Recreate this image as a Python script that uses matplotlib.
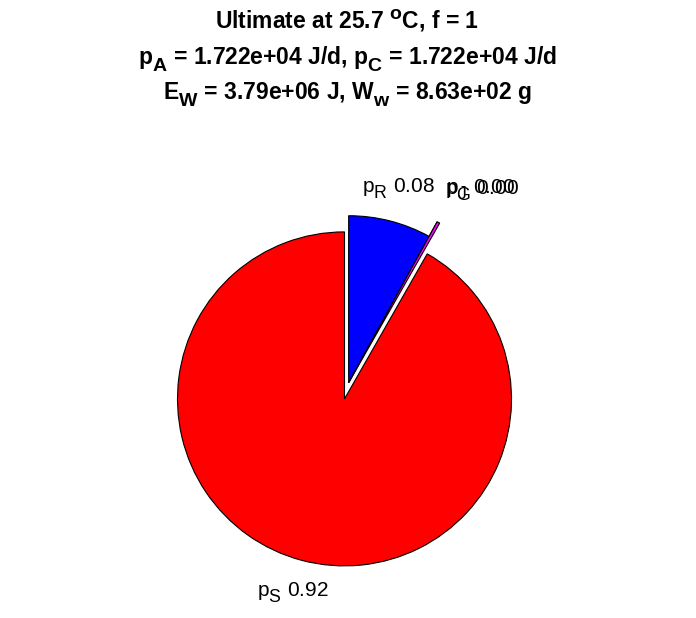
import numpy as np
import matplotlib
matplotlib.use('Agg')
import matplotlib.pyplot as plt
import matplotlib._mathtext as mathtext_internals

plt.rcParams['font.family'] = ['Liberation Sans', 'DejaVu Sans']
plt.rcParams['mathtext.fontset'] = 'custom'
plt.rcParams['mathtext.rm'] = 'Liberation Sans'
plt.rcParams['mathtext.it'] = 'Liberation Sans'
plt.rcParams['mathtext.bf'] = 'Liberation Sans:bold'

# MATLAB-style tex: bigger, lower sub/superscripts
mathtext_internals.SHRINK_FACTOR = 0.85
mathtext_internals.FontConstantsBase.sub1 = 0.6
mathtext_internals.FontConstantsBase.sup1 = 0.75

# Data (fractions of assimilation power)
names = ['R', 'J', 'G', 'S']
fractions = [0.080, 0.0, 0.0025, 0.9175]
explode = [0.1, 0.1, 0.1, 0.0]
colors = ['#0000ff', '#00ff00', '#ff00ff', '#ff0000']

title_lines = [
    r'Ultimate at 25.7 $^{\mathbf{o}}$C, f = 1',
    r'p$_{\mathbf{A}}$ = 1.722e+04 J/d, p$_{\mathbf{C}}$ = 1.722e+04 J/d',
    r'E$_{\mathbf{W}}$ = 3.79e+06 J, W$_{\mathbf{w}}$ = 8.63e+02 g',
]

fig = plt.figure(figsize=(6.96, 6.18), dpi=100)
ax = fig.add_axes([10.5 / 696, 2 / 618, 668 / 696, 601.2 / 618])

wedges, _ = ax.pie(fractions, explode=explode, colors=colors, startangle=90,
                   counterclock=False, radius=1.0,
                   wedgeprops=dict(edgecolor='k', linewidth=0.8))
ax.set_xlim(-2, 2)
ax.set_ylim(-1.3, 2.3)
ax.set_aspect('equal', adjustable='box')
ax.axis('off')

# tiny slices share the offset of the R slice and stick out a bit
for i, f in enumerate(fractions):
    if f < 0.005:
        wedges[i].set_center(wedges[0].center)
        wedges[i].set_radius(1.1)

# labels
order = [0, 3, 1, 2]
for i in order:
    w = wedges[i]
    th = np.deg2rad((w.theta1 + w.theta2) / 2)
    cx, cy = w.center
    if fractions[i] < 0.005:
        th2 = th - np.deg2rad(5.5)
        x, y = cx + 1.4 * np.cos(th2), cy + 1.4 * np.sin(th2)
    else:
        x, y = cx + 1.2 * np.cos(th), cy + 1.2 * np.sin(th)
    ax.text(x, y, r'p$_{\mathrm{%s}}$ %.2f' % (names[i], fractions[i]),
            ha='center', va='center', fontsize=15)

for k, line in enumerate(title_lines):
    fig.text(0.499, 1 - (29 + 35 * k) / 618, line, ha='center', va='baseline',
             fontsize=16.5, fontweight='bold')

fig.savefig('out.png', dpi=100)
